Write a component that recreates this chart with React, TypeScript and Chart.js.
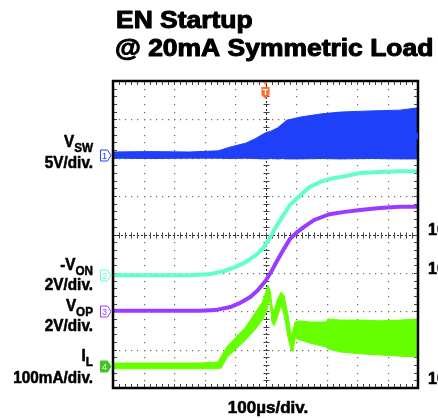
import { useEffect, useRef } from "react";
import { Chart, registerables, type Plugin } from "chart.js";

Chart.register(...registerables);

// Time axis in µs (100 µs/div, trigger at 0). Vertical values are screen divisions from the bottom (0..8).
const vswTime = [-500, -380, -250, -155, -115, -65, -35, 0, 20, 40, 55, 70, 115, 180, 245, 345, 440, 500];
const vswUpper = [6.15, 6.16, 6.15, 6.18, 6.28, 6.38, 6.49, 6.65, 6.7, 6.78, 6.88, 6.98, 7.06, 7.14, 7.19, 7.22, 7.24, 7.3];
const vswLower = [5.99, 5.98, 5.99, 5.99, 5.98, 5.99, 5.98, 5.97, 5.98, 5.97, 5.98, 5.97, 5.97, 5.98, 5.97, 5.98, 5.97, 5.97];

const vonTime = [-500, -380, -250, -180, -135, -100, -65, -35, -10, 10, 30, 55, 80, 115, 145, 180, 210, 260, 310, 375, 440, 500];
const vonValues = [2.94, 2.94, 2.94, 2.97, 3.05, 3.15, 3.28, 3.44, 3.62, 3.86, 4.14, 4.46, 4.77, 5.03, 5.24, 5.37, 5.45, 5.52, 5.6, 5.63, 5.65, 5.65];

const vopTime = [-500, -380, -215, -165, -115, -85, -50, -25, 0, 20, 40, 60, 80, 105, 130, 160, 210, 260, 310, 375, 440, 500];
const vopValues = [2.01, 2.01, 2.01, 2.03, 2.11, 2.21, 2.37, 2.55, 2.79, 3.05, 3.34, 3.62, 3.88, 4.07, 4.22, 4.38, 4.53, 4.59, 4.64, 4.69, 4.72, 4.72];

const ilTime = [-500, -215, -155, -145, -125, -100, -65, -35, -10, 3, 8, 15, 21, 28, 38, 51, 61, 74, 84, 90, 97, 113, 146, 198, 205, 244, 310, 375, 441, 500];
const ilUpper = [0.65, 0.65, 0.68, 0.83, 1.09, 1.3, 1.59, 1.95, 2.24, 2.55, 2.68, 2.55, 2.16, 1.98, 2.29, 2.5, 2.4, 1.9, 1.38, 1.51, 1.72, 1.75, 1.72, 1.72, 1.8, 1.77, 1.77, 1.75, 1.77, 1.8];
const ilLower = [0.5, 0.5, 0.5, 0.52, 0.81, 0.99, 1.25, 1.51, 1.77, 1.98, 2.16, 2.29, 1.72, 1.62, 1.82, 2.16, 1.9, 1.3, 0.99, 0.94, 1.3, 1.25, 1.17, 1.07, 1.02, 0.94, 0.89, 0.86, 0.83, 0.81];

// Channel ground markers (left edge) and the CH1 reference arrow (right edge), in divisions
const channelNames = ["1", "2", "3", "4"];
const channelLevels = [6.07, 2.94, 2.01, 0.58];
const ch1RightMarker = 6.57;

const xDivisions = [-500, -400, -300, -200, -100, 0, 100, 200, 300, 400, 500];
const yDivisions = [0, 1, 2, 3, 4, 5, 6, 7, 8];

const BLUE = "#1f3ff8";
const CYAN = "#62ffc9";
const PURPLE = "#9a3cff";
const GREEN = "#66ff00";
const ORANGE = "#ff6a2e";
const channelColors = [BLUE, CYAN, PURPLE, GREEN];
const FONT = '"Liberation Sans", Arial, sans-serif';

const toPoints = (xs: number[], ys: number[]) => xs.map((x, i) => ({ x, y: ys[i] }));

const scopeGrid: Plugin<"line"> = {
  id: "scopeGrid",
  beforeDatasetsDraw(chart) {
    const { ctx, chartArea: a, scales } = chart;
    const xs = scales.x;
    const ys = scales.y;
    ctx.save();
    // dotted graticule: one dot per minor step (1/5 div)
    ctx.fillStyle = "#6b6b6b";
    xDivisions.slice(1, -1).forEach((t) => {
      if (t === 0) return;
      const px = Math.round(xs.getPixelForValue(t));
      for (let i = 0; i <= 40; i++) {
        const py = Math.round(ys.getPixelForValue(i / 5));
        ctx.fillRect(px, py, 1.2, 1.2);
      }
    });
    yDivisions.slice(1, -1).forEach((d) => {
      if (d === 4) return;
      const py = Math.round(ys.getPixelForValue(d));
      for (let i = 0; i <= 50; i++) {
        const px = Math.round(xs.getPixelForValue(-500 + i * 20));
        ctx.fillRect(px, py, 1.2, 1.2);
      }
    });
    // centre lines with minor ticks
    const cx = Math.round(xs.getPixelForValue(0)) + 0.5;
    const cy = Math.round(ys.getPixelForValue(4)) + 0.5;
    ctx.strokeStyle = "#222";
    ctx.lineWidth = 1;
    ctx.setLineDash([2, 2]);
    ctx.beginPath();
    ctx.moveTo(cx, a.top);
    ctx.lineTo(cx, a.bottom);
    ctx.moveTo(a.left, cy);
    ctx.lineTo(a.right, cy);
    ctx.stroke();
    ctx.setLineDash([]);
    ctx.strokeStyle = "#444";
    ctx.beginPath();
    for (let i = 0; i <= 40; i++) {
      const py = Math.round(ys.getPixelForValue(i / 5)) + 0.5;
      ctx.moveTo(cx - 3, py);
      ctx.lineTo(cx + 3, py);
      ctx.moveTo(a.left, py);
      ctx.lineTo(a.left + 4, py);
      ctx.moveTo(a.right, py);
      ctx.lineTo(a.right - 4, py);
    }
    for (let i = 0; i <= 50; i++) {
      const px = Math.round(xs.getPixelForValue(-500 + i * 20)) + 0.5;
      ctx.moveTo(px, cy - 3);
      ctx.lineTo(px, cy + 3);
      ctx.moveTo(px, a.top);
      ctx.lineTo(px, a.top + 4);
      ctx.moveTo(px, a.bottom);
      ctx.lineTo(px, a.bottom - 4);
    }
    ctx.stroke();
    ctx.restore();
  }
};

// bold text, optionally stretched horizontally and thickened with a stroke (the scanned labels are heavy)
function drawText(ctx: CanvasRenderingContext2D, text: string, x: number, y: number, size: number, align: CanvasTextAlign, sx = 1, heavy = 0.6) {
  ctx.save();
  ctx.font = `bold ${size}px ${FONT}`;
  ctx.textAlign = align;
  ctx.textBaseline = "alphabetic";
  ctx.translate(x, y);
  ctx.scale(sx, 1);
  ctx.fillStyle = "#000";
  ctx.strokeStyle = "#000";
  ctx.lineWidth = heavy;
  ctx.lineJoin = "round";
  ctx.fillText(text, 0, 0);
  if (heavy > 0) ctx.strokeText(text, 0, 0);
  ctx.restore();
}

// main text + subscript, right-aligned at `right`
function drawSubLabel(ctx: CanvasRenderingContext2D, main: string, sub: string, right: number, base: number) {
  const sx = 0.9;
  ctx.save();
  ctx.font = `bold 13px ${FONT}`;
  const subW = ctx.measureText(sub).width * sx;
  ctx.restore();
  drawText(ctx, sub, right, base + 5, 13, "right", sx, 0.5);
  drawText(ctx, main, right - subW, base, 17, "right", sx);
}

const scopeDecor: Plugin<"line"> = {
  id: "scopeDecor",
  afterDraw(chart) {
    const { ctx, chartArea: a, scales } = chart;
    const xs = scales.x;
    const ys = scales.y;
    ctx.save();
    // frame
    ctx.strokeStyle = "#000";
    ctx.lineWidth = 2.5;
    ctx.strokeRect(a.left, a.top, a.right - a.left, a.bottom - a.top);

    // trigger marker
    const tx = xs.getPixelForValue(0);
    ctx.fillStyle = ORANGE;
    ctx.beginPath();
    ctx.moveTo(tx - 2.5, a.top + 1);
    ctx.lineTo(tx + 2.5, a.top + 1);
    ctx.lineTo(tx, a.top + 4);
    ctx.closePath();
    ctx.fill();
    ctx.beginPath();
    ctx.moveTo(tx - 4, a.top + 6);
    ctx.lineTo(tx + 4, a.top + 6);
    ctx.lineTo(tx + 4, a.top + 14);
    ctx.lineTo(tx, a.top + 18);
    ctx.lineTo(tx - 4, a.top + 14);
    ctx.closePath();
    ctx.fill();
    ctx.fillStyle = "#fff";
    ctx.font = `bold 9px ${FONT}`;
    ctx.textAlign = "center";
    ctx.fillText("T", tx, a.top + 14);

    // channel ground markers
    channelLevels.forEach((lvl, i) => {
      const py = Math.round(ys.getPixelForValue(lvl)) + 0.5;
      const color = channelColors[i];
      const filled = i === 3;
      ctx.beginPath();
      ctx.moveTo(100.5, py - 5.5);
      ctx.lineTo(107.5, py - 5.5);
      ctx.lineTo(111, py);
      ctx.lineTo(107.5, py + 5.5);
      ctx.lineTo(100.5, py + 5.5);
      ctx.closePath();
      ctx.fillStyle = filled ? "#3cc81e" : "#fff";
      ctx.fill();
      ctx.strokeStyle = filled ? "#3cc81e" : color;
      ctx.lineWidth = 1;
      ctx.stroke();
      ctx.fillStyle = filled ? "#fff" : color;
      ctx.font = `9px ${FONT}`;
      ctx.textAlign = "center";
      ctx.fillText(channelNames[i], 104.5, py + 3.5);
    });

    // CH1 arrow on right edge
    const ry = ys.getPixelForValue(ch1RightMarker);
    ctx.fillStyle = BLUE;
    ctx.beginPath();
    ctx.moveTo(a.right - 4, ry);
    ctx.lineTo(a.right, ry - 4);
    ctx.lineTo(a.right, ry + 4);
    ctx.closePath();
    ctx.fill();
    ctx.restore();

    // text
    drawText(ctx, "EN Startup", 116, 28, 23, "left", 1.15, 1);
    drawText(ctx, "@ 20mA Symmetric Load", 115, 56, 23, "left", 1.15, 1);

    drawSubLabel(ctx, "V", "SW", 93, 147);
    drawText(ctx, "5V/div.", 93, 168, 17, "right", 0.9);
    drawSubLabel(ctx, "-V", "ON", 93, 270);
    drawText(ctx, "2V/div.", 93, 290, 17, "right", 0.9);
    drawSubLabel(ctx, "V", "OP", 93, 311);
    drawText(ctx, "2V/div.", 93, 331, 17, "right", 0.9);
    drawSubLabel(ctx, "I", "L", 93, 361);
    drawText(ctx, "100mA/div.", 93, 383, 17, "right", 0.9);

    drawText(ctx, "100µs/div.", 268, 413, 17, "center", 1);

    drawText(ctx, "10", 428, 235, 16, "left", 1);
    drawText(ctx, "10", 428, 274, 16, "left", 1);
    drawText(ctx, "10", 428, 384, 16, "left", 1);
  }
};

export default function App() {
  const canvasRef = useRef<HTMLCanvasElement>(null);

  useEffect(() => {
    const canvas = canvasRef.current;
    if (!canvas) return;

    const line = { pointRadius: 0, tension: 0, borderWidth: 1 };

    const chart = new Chart(canvas, {
      type: "line",
      data: {
        datasets: [
          { ...line, label: "VSW low", data: toPoints(vswTime, vswLower), borderColor: BLUE, fill: false },
          { ...line, label: "VSW high", data: toPoints(vswTime, vswUpper), borderColor: BLUE, backgroundColor: BLUE, fill: "-1" },
          { ...line, label: "-VON", data: toPoints(vonTime, vonValues), borderColor: CYAN, borderWidth: 4, fill: false },
          { ...line, label: "VOP", data: toPoints(vopTime, vopValues), borderColor: PURPLE, borderWidth: 4, fill: false },
          { ...line, label: "IL low", data: toPoints(ilTime, ilLower), borderColor: GREEN, fill: false },
          { ...line, label: "IL high", data: toPoints(ilTime, ilUpper), borderColor: GREEN, backgroundColor: GREEN, fill: "-1" }
        ]
      },
      options: {
        responsive: true,
        maintainAspectRatio: false,
        animation: false,
        events: [],
        layout: { padding: { left: 113, top: 81, right: 20, bottom: 31 } },
        plugins: { legend: { display: false }, tooltip: { enabled: false }, title: { display: false } },
        scales: {
          x: { type: "linear", min: -500, max: 500, display: false },
          y: { type: "linear", min: 0, max: 8, display: false }
        }
      },
      plugins: [scopeGrid, scopeDecor]
    });

    return () => chart.destroy();
  }, []);

  return (
    <div style={{ position: "fixed", left: 0, top: 0, width: 438, height: 419, background: "#fff", overflow: "hidden" }}>
      <canvas ref={canvasRef} />
    </div>
  );
}
